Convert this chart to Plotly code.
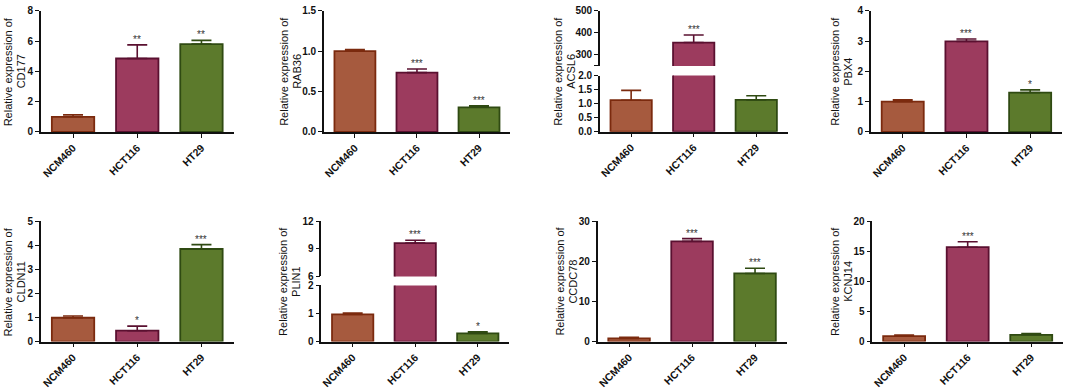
import plotly.graph_objects as go

cell_lines = ["NCM460", "HCT116", "HT29"]
genes = ["CD177", "RAB36", "ACSL6", "PBX4", "CLDN11", "PLIN1", "CCDC78", "KCNJ14"]

cd177_mean = [1.0, 4.85, 5.8]
cd177_sem = [0.13, 0.9, 0.25]
rab36_mean = [1.0, 0.735, 0.305]
rab36_sem = [0.02, 0.045, 0.02]
acsl6_mean = [1.12, 356.0, 1.13]
acsl6_sem = [0.35, 34.0, 0.15]
pbx4_mean = [1.0, 2.99, 1.3]
pbx4_sem = [0.06, 0.08, 0.09]
cldn11_mean = [0.99, 0.45, 3.85]
cldn11_sem = [0.07, 0.19, 0.18]
plin1_mean = [0.97, 9.63, 0.29]
plin1_sem = [0.05, 0.31, 0.055]
ccdc78_mean = [0.8, 25.0, 17.0]
ccdc78_sem = [0.25, 0.7, 1.3]
kcnj14_mean = [0.9, 15.7, 1.12]
kcnj14_sem = [0.2, 0.9, 0.2]

cd177_sig = ["", "**", "**"]
rab36_sig = ["", "***", "***"]
acsl6_sig = ["", "***", ""]
pbx4_sig = ["", "***", "*"]
cldn11_sig = ["", "*", "***"]
plin1_sig = ["", "***", "*"]
ccdc78_sig = ["", "***", "***"]
kcnj14_sig = ["", "***", ""]

means = [cd177_mean, rab36_mean, acsl6_mean, pbx4_mean, cldn11_mean, plin1_mean, ccdc78_mean, kcnj14_mean]
sems = [cd177_sem, rab36_sem, acsl6_sem, pbx4_sem, cldn11_sem, plin1_sem, ccdc78_sem, kcnj14_sem]
sigs = [cd177_sig, rab36_sig, acsl6_sig, pbx4_sig, cldn11_sig, plin1_sig, ccdc78_sig, kcnj14_sig]

# axis settings: (range, dtick, format) ; broken axes have an upper segment
y_lower = [([0, 8], 2, ""), ([0, 1.5], 0.5, ".1f"), ([0, 2], 0.5, ".1f"), ([0, 4], 1, ""),
           ([0, 5], 1, ""), ([0, 2], 1, ""), ([0, 30], 10, ""), ([0, 20], 5, "")]
y_upper = {2: ([250, 500], [250, 300, 400, 500], ["", "300", "400", "500"]),
           5: ([6, 12], [6, 9, 12], ["6", "9", "12"])}

fills = ["#A65A3E", "#9C3B5E", "#5C7A2C"]
borders = ["#7B2A0E", "#5A1030", "#2F4A12"]

W, H = 1065, 389
xpx = [(39, 232), (322.5, 509), (599, 787), (870.5, 1062),
       (39, 232), (320, 508), (596.7, 786), (872, 1063)]
rows_px = [(5, 131), (224, 349)]
break_px = {2: ((5, 62.3), (72.3, 130.7)), 5: ((224, 281.3), (290.7, 349))}
# horizontal centre of each two-line y title, px left of the y axis
title_off = [26.5, 33, 35, 29, 26.5, 31.5, 31, 30.5]

FONT = "Liberation Sans, Arial, sans-serif"

fig = go.Figure()
layout = dict(width=W, height=H, margin=dict(l=0, r=0, t=0, b=0),
              plot_bgcolor="white", paper_bgcolor="white", barmode="overlay",
              showlegend=False, font=dict(family=FONT, color="#111"))
annotations = []

def ydom(p0, p1):
    return [1 - p1 / H, 1 - p0 / H]

axis_common = dict(showline=True, linecolor="#111", linewidth=1.5, ticks="outside",
                   ticklen=4, tickwidth=1.3, tickcolor="#111", showgrid=False, zeroline=False,
                   tickfont=dict(family=FONT, size=10, color="#111", weight="bold"))

for i, g in enumerate(genes):
    n = i + 1
    xd = [xpx[i][0] / W, xpx[i][1] / W]
    row = 0 if i < 4 else 1
    if i in break_px:
        up_px, lo_px = break_px[i]
        u = 9 if i == 2 else 10
        axes_pairs = [(n, ydom(*lo_px), False), (u, ydom(*up_px), True)]
    else:
        axes_pairs = [(n, ydom(*rows_px[row]), False)]

    for ax_n, dom, is_upper in axes_pairs:
        xs = "" if ax_n == 1 else str(ax_n)
        xa = dict(axis_common, domain=xd, range=[-0.5, 2.5], anchor="y" + xs,
                  type="category", tickangle=-45,
                  tickfont=dict(family=FONT, size=10.5, color="#111", weight="bold"))
        if is_upper:
            xa.update(visible=False)
        ya = dict(axis_common, domain=dom, anchor="x" + xs)
        if is_upper:
            r, tv, tt = y_upper[i]
            ya.update(range=r, tickvals=tv, ticktext=tt)
        else:
            r, dt, fmt = y_lower[i]
            ya.update(range=r, dtick=dt, tick0=0, tickformat=fmt)
        layout["xaxis" + xs] = xa
        layout["yaxis" + xs] = ya
        for k, c in enumerate(cell_lines):
            fig.add_trace(go.Bar(
                x=[c], y=[means[i][k]], width=0.66,
                marker=dict(color=fills[k], line=dict(color=borders[k], width=1.8)),
                error_y=dict(type="data", symmetric=False, array=[sems[i][k]],
                             arrayminus=[0], color=borders[k], thickness=1.6, width=10),
                xaxis="x" + xs, yaxis="y" + xs, hoverinfo="skip"))

    # significance stars
    for k, c in enumerate(cell_lines):
        if not sigs[i][k]:
            continue
        top = means[i][k] + sems[i][k]
        ax_n = n
        if i in break_px and top > y_lower[i][0][1]:
            ax_n = 9 if i == 2 else 10
        xs = "" if ax_n == 1 else str(ax_n)
        annotations.append(dict(x=c, y=top, xref="x" + xs, yref="y" + xs, text=sigs[i][k],
                                showarrow=False, yanchor="bottom", yshift=-2,
                                font=dict(family=FONT, size=10, color="#333")))

    # y title, two lines
    y0, y1 = rows_px[row]
    ymid = 1 - (y0 + y1) / 2 / H
    for j, line in enumerate(["Relative expression of", g]):
        xc = xpx[i][0] - title_off[i] + (j - 0.5) * 13
        annotations.append(dict(x=xc / W, y=ymid, xref="paper", yref="paper",
                                xanchor="center", yanchor="middle", text=line, textangle=-90,
                                showarrow=False, font=dict(family=FONT, size=11, color="#111")))

layout["annotations"] = annotations
fig.update_layout(**layout)
fig.write_html("out.html", post_script="document.body.style.margin='0';",
               config={"displayModeBar": False})
